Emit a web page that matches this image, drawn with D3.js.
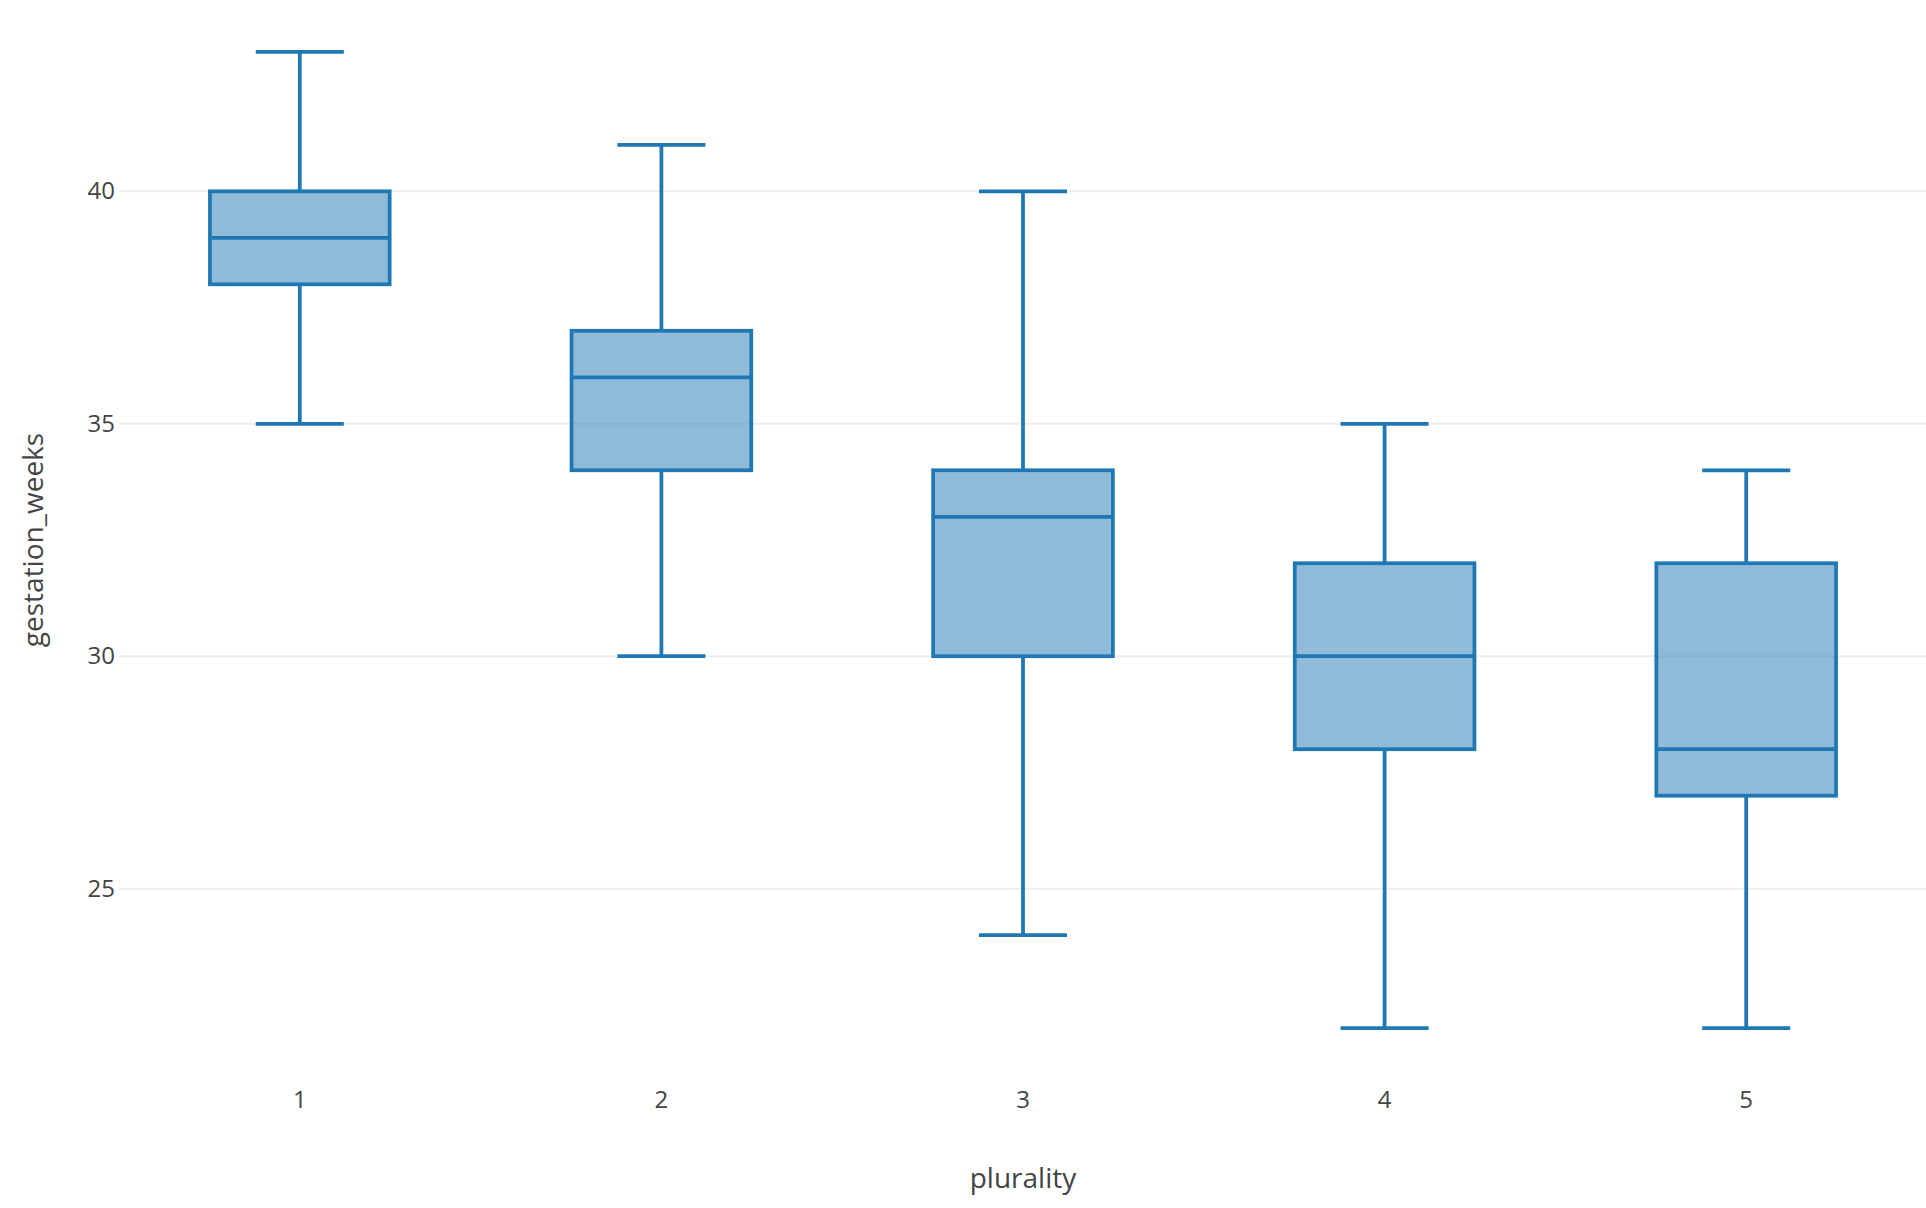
<!DOCTYPE html>
<html lang="en">
<head>
    <meta charset="UTF-8">
    <title>gestation_weeks by plurality</title>
    <script src="https://d3js.org/d3.v7.min.js"></script>
    <style>
        body {
            margin: 0;
            background-color: #ffffff;
            font-family: "Open Sans", sans-serif;
        }
        .tick text {
            fill: #444;
        }
    </style>
</head>
<body>
    <svg id="chart" width="1926" height="1208"></svg>
    <script>
        // data
        const categories = ['1', '2', '3', '4', '5'];
        const mins = [35, 30, 24, 22, 22];
        const q1s = [38, 34, 30, 28, 27];
        const medians = [39, 36, 33, 30, 28];
        const q3s = [40, 37, 34, 32, 32];
        const maxs = [43, 41, 40, 35, 34];
        const yTicks = [25, 30, 35, 40];

        const rows = categories.map((c, i) => ({
            cat: c, min: mins[i], q1: q1s[i], med: medians[i], q3: q3s[i], max: maxs[i]
        }));

        const svg = d3.select('#chart');
        const margin = { top: 3, right: -1, bottom: 131, left: 119 };
        const width = 1926 - margin.left - margin.right;
        const height = 1208 - margin.top - margin.bottom;

        const color = '#1f77b4';
        const lw = 3.75;

        const chart = svg.append('g')
            .attr('transform', `translate(${margin.left},${margin.top})`);

        const x = d3.scaleBand()
            .domain(categories)
            .range([0, width]);

        const y = d3.scaleLinear()
            .domain([20.95, 44.05])
            .range([height, 0]);

        // gridlines
        chart.append('g')
            .selectAll('line')
            .data(yTicks)
            .join('line')
            .attr('x1', 0)
            .attr('x2', width)
            .attr('y1', d => y(d))
            .attr('y2', d => y(d))
            .attr('stroke', '#eeeeee')
            .attr('stroke-width', 2);

        const yAxis = chart.append('g')
            .call(d3.axisLeft(y).tickValues(yTicks).tickSize(0).tickPadding(4));
        yAxis.select('.domain').remove();
        yAxis.selectAll('text')
            .style('font-family', '"Open Sans", sans-serif')
            .style('font-size', '24px');

        const xAxis = chart.append('g')
            .attr('transform', `translate(0,${height})`)
            .call(d3.axisBottom(x).tickSize(0).tickPadding(14));
        xAxis.select('.domain').remove();
        xAxis.selectAll('text')
            .style('font-family', '"Open Sans", sans-serif')
            .style('font-size', '24px');

        const boxW = x.bandwidth() * 0.497;
        const capW = boxW * 0.49;

        const boxes = chart.selectAll('.box')
            .data(rows)
            .join('g')
            .attr('class', 'box')
            .attr('transform', d => `translate(${x(d.cat) + x.bandwidth() / 2},0)`);

        // whiskers
        boxes.append('line')
            .attr('x1', 0).attr('x2', 0)
            .attr('y1', d => y(d.max)).attr('y2', d => y(d.q3))
            .attr('stroke', color).attr('stroke-width', lw);
        boxes.append('line')
            .attr('x1', 0).attr('x2', 0)
            .attr('y1', d => y(d.q1)).attr('y2', d => y(d.min))
            .attr('stroke', color).attr('stroke-width', lw);
        boxes.append('line')
            .attr('x1', -capW / 2).attr('x2', capW / 2)
            .attr('y1', d => y(d.max)).attr('y2', d => y(d.max))
            .attr('stroke', color).attr('stroke-width', lw);
        boxes.append('line')
            .attr('x1', -capW / 2).attr('x2', capW / 2)
            .attr('y1', d => y(d.min)).attr('y2', d => y(d.min))
            .attr('stroke', color).attr('stroke-width', lw);

        // box body
        boxes.append('rect')
            .attr('x', -boxW / 2)
            .attr('width', boxW)
            .attr('y', d => y(d.q3))
            .attr('height', d => y(d.q1) - y(d.q3))
            .attr('fill', 'rgba(31,119,180,0.5)')
            .attr('stroke', color)
            .attr('stroke-width', lw);

        // median
        boxes.append('line')
            .attr('x1', -boxW / 2).attr('x2', boxW / 2)
            .attr('y1', d => y(d.med)).attr('y2', d => y(d.med))
            .attr('stroke', color).attr('stroke-width', lw);

        // axis titles
        svg.append('text')
            .attr('x', margin.left + width / 2)
            .attr('y', 1188)
            .attr('text-anchor', 'middle')
            .style('font-size', '28px')
            .style('fill', '#444')
            .text('plurality');

        svg.append('text')
            .attr('transform', `translate(43,${margin.top + height / 2}) rotate(-90)`)
            .attr('text-anchor', 'middle')
            .style('font-size', '28px')
            .style('fill', '#444')
            .text('gestation_weeks');
    </script>
</body>
</html>
